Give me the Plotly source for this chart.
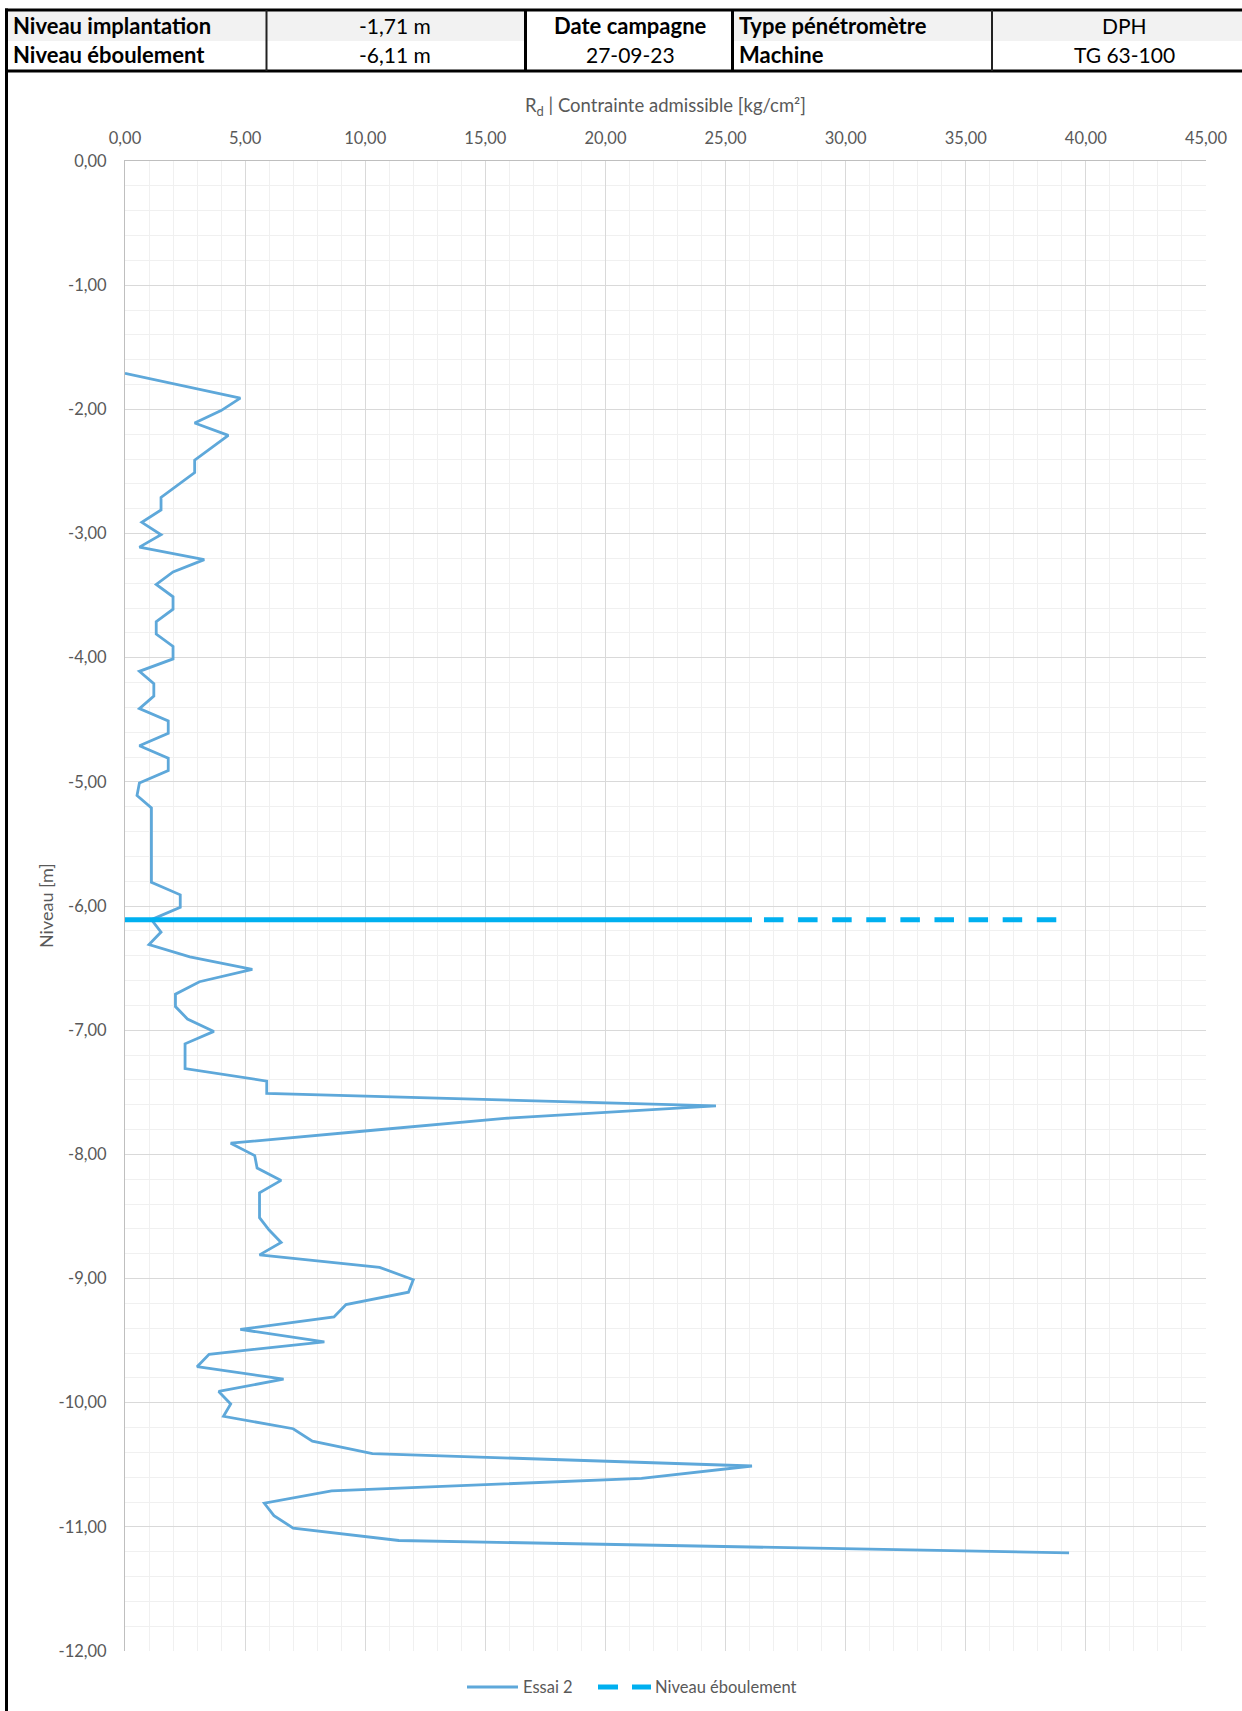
import plotly.graph_objects as go

# --- Sondage data -----------------------------------------------------------
niveau_implantation = -1.71
niveau_eboulement = -6.11
date_campagne = "27-09-23"
type_penetrometre = "DPH"
machine = "TG 63-100"

# Depth of each reading [m]
niveau = [
    -1.71, -1.81, -1.91, -2.01, -2.11, -2.21, -2.31, -2.41, -2.51, -2.61,
    -2.71, -2.81, -2.91, -3.01, -3.11, -3.21, -3.31, -3.41, -3.51, -3.61,
    -3.71, -3.81, -3.91, -4.01, -4.11, -4.21, -4.31, -4.41, -4.51, -4.61,
    -4.71, -4.81, -4.91, -5.01, -5.11, -5.21, -5.31, -5.41, -5.51, -5.61,
    -5.71, -5.81, -5.91, -6.01, -6.11, -6.21, -6.31, -6.41, -6.51, -6.61,
    -6.71, -6.81, -6.91, -7.01, -7.11, -7.21, -7.31, -7.41, -7.51, -7.61,
    -7.71, -7.81, -7.91, -8.01, -8.11, -8.21, -8.31, -8.41, -8.51, -8.61,
    -8.71, -8.81, -8.91, -9.01, -9.11, -9.21, -9.31, -9.41, -9.51, -9.61,
    -9.71, -9.81, -9.91, -10.01, -10.11, -10.21, -10.31, -10.41, -10.51, -10.61,
    -10.71, -10.81, -10.91, -11.01, -11.11, -11.21,
]

# Rd, admissible stress [kg/cm²] for "Essai 2"
rd_essai2 = [
    0.0, 2.4, 4.8, 4.0, 2.9, 4.3, 3.6, 2.9, 2.9, 2.2,
    1.5, 1.5, 0.7, 1.5, 0.6, 3.3, 2.0, 1.3, 2.0, 2.0,
    1.3, 1.3, 2.0, 2.0, 0.6, 1.2, 1.2, 0.6, 1.8, 1.8,
    0.6, 1.8, 1.8, 0.6, 0.5, 1.1, 1.1, 1.1, 1.1, 1.1,
    1.1, 1.1, 2.3, 2.3, 1.1, 1.5, 1.0, 2.7, 5.3, 3.1,
    2.1, 2.1, 2.6, 3.7, 2.5, 2.5, 2.5, 5.9, 5.9, 24.6,
    15.8, 10.1, 4.4, 5.4, 5.5, 6.5, 5.6, 5.6, 5.6, 6.0,
    6.5, 5.6, 10.6, 12.0, 11.8, 9.2, 8.7, 4.8, 8.3, 3.5,
    3.0, 6.6, 3.9, 4.4, 4.1, 7.0, 7.8, 10.3, 26.1, 21.5,
    8.6, 5.8, 6.2, 7.0, 11.4, 39.3,
]

# Axis ticks
x_ticks = [0, 5, 10, 15, 20, 25, 30, 35, 40, 45]
y_ticks = [0, -1, -2, -3, -4, -5, -6, -7, -8, -9, -10, -11, -12]


def fr(v, nd=2):
    """French decimal formatting with a plain hyphen for negatives."""
    return f"{v:.{nd}f}".replace(".", ",")


# --- Page geometry (pixels) --------------------------------------------------
W, H = 1242, 1711
L, R, T, B = 125, 36, 161, 60
PW, PH = W - L - R, H - T - B


def px(x):
    return (x - L) / PW


def py(y):
    return (H - B - y) / PH


GREY_TXT = "#595959"
FONT = "Lato"
C_ESSAI = "#5EA8DA"
C_EBOUL = "#00B0F0"
EBOUL_DASH = "0px,12px,19.5px,2.6px"

fig = go.Figure()

fig.add_trace(go.Scatter(
    x=rd_essai2, y=niveau, mode="lines", name="Essai 2",
    line=dict(color=C_ESSAI, width=2.8),
))

# Collapse level: dense part drawn solid, last stretch dashed
eb_sorted = sorted(rd_essai2)
fig.add_trace(go.Scatter(
    x=[eb_sorted[0], eb_sorted[-2]], y=[niveau_eboulement] * 2, mode="lines",
    name="Niveau éboulement", line=dict(color=C_EBOUL, width=5), hoverinfo="skip",
))
fig.add_trace(go.Scatter(
    x=[eb_sorted[-2], eb_sorted[-1]], y=[niveau_eboulement] * 2, mode="lines",
    name="Niveau éboulement",
    line=dict(color=C_EBOUL, width=5, dash=EBOUL_DASH),
))

fig.update_xaxes(
    side="top", range=[0, 45], tickvals=x_ticks, ticktext=[fr(v) for v in x_ticks],
    showgrid=True, gridcolor="#D9D9D9", gridwidth=1,
    minor=dict(dtick=1, showgrid=True, gridcolor="#F0F0F0", gridwidth=1),
    showline=True, linecolor="#BFBFBF", linewidth=1, mirror=False,
    zeroline=False, ticks="", ticklabelstandoff=9,
    tickfont=dict(family=FONT, size=16.5, color=GREY_TXT),
)
fig.update_yaxes(
    range=[-12, 0], tickvals=y_ticks, ticktext=[fr(v) for v in y_ticks],
    showgrid=True, gridcolor="#D9D9D9", gridwidth=1,
    minor=dict(dtick=0.2, showgrid=True, gridcolor="#F0F0F0", gridwidth=1),
    showline=True, linecolor="#BFBFBF", linewidth=1,
    zeroline=False, ticks="", ticklabelstandoff=14,
    tickfont=dict(family=FONT, size=16.5, color=GREY_TXT),
)

shapes = []
annotations = []

# Axis titles
annotations.append(dict(
    x=0.5, y=py(106), xref="paper", yref="paper", showarrow=False,
    text="R<sub>d</sub> | Contrainte admissible [kg/cm²]",
    font=dict(family=FONT, size=18.5, color=GREY_TXT), xanchor="center", yanchor="middle",
))
annotations.append(dict(
    x=px(46), y=0.5, xref="paper", yref="paper", showarrow=False,
    text="Niveau [m]", textangle=-90,
    font=dict(family=FONT, size=18, color=GREY_TXT), xanchor="center", yanchor="middle",
))

# Header table: shaded first row
for x0, x1 in [(8, 525), (733, W)]:
    shapes.append(dict(type="rect", xref="paper", yref="paper",
                       x0=px(x0), x1=px(x1), y0=py(11), y1=py(41),
                       fillcolor="#F2F2F2", line=dict(width=0), layer="below"))


# Header table borders and page frame
def hline(y, x0, x1, w, c="#000000", dash="solid"):
    shapes.append(dict(type="line", xref="paper", yref="paper",
                       x0=px(x0), x1=px(x1), y0=py(y), y1=py(y),
                       line=dict(color=c, width=w, dash=dash)))


def vline(x, y0, y1, w, c="#000000"):
    shapes.append(dict(type="line", xref="paper", yref="paper",
                       x0=px(x), x1=px(x), y0=py(y0), y1=py(y1),
                       line=dict(color=c, width=w)))


hline(10, 5, W, 3)
hline(71, 5, W, 3)
vline(6.5, 8.5, H, 3)
vline(266.5, 10, 71, 2, "#222222")
vline(525.5, 10, 71, 3)
vline(732.5, 10, 71, 3)
vline(992, 10, 71, 2, "#222222")

row1, row2 = 25, 54
cells = [
    ("<b>Niveau implantation</b>", 11, row1, "left", 22),
    ("<b>Niveau éboulement</b>", 11, row2, "left", 22),
    (f"{fr(niveau_implantation)} m", 395, row1, "center", 21),
    (f"{fr(niveau_eboulement)} m", 395, row2, "center", 21),
    ("<b>Date campagne</b>", 630, row1, "center", 22),
    (date_campagne, 630, row2, "center", 21),
    ("<b>Type pénétromètre</b>", 737, row1, "left", 22),
    ("<b>Machine</b>", 737, row2, "left", 22),
    (type_penetrometre, 1124, row1, "center", 21),
    (machine, 1124, row2, "center", 21),
]
for txt, x, y, anc, sz in cells:
    annotations.append(dict(
        x=px(x), y=py(y), xref="paper", yref="paper", showarrow=False,
        text=txt, xanchor=anc, yanchor="middle",
        font=dict(family=FONT, size=sz, color="#000000"),
    ))

# Legend row below the plot (wide line samples)
LEG_Y = 1687
hline(LEG_Y, 467, 518, 2.8, C_ESSAI)
annotations.append(dict(
    x=px(521), y=py(LEG_Y), xref="paper", yref="paper", showarrow=False,
    text=fig.data[0].name, xanchor="left", yanchor="middle",
    font=dict(family=FONT, size=16.5, color=GREY_TXT),
))
hline(LEG_Y, 598, 618, 5, C_EBOUL)
hline(LEG_Y, 632, 651, 5, C_EBOUL)
annotations.append(dict(
    x=px(653), y=py(LEG_Y), xref="paper", yref="paper", showarrow=False,
    text=fig.data[2].name, xanchor="left", yanchor="middle",
    font=dict(family=FONT, size=16.5, color=GREY_TXT),
))

fig.update_layout(
    width=W, height=H,
    margin=dict(l=L, r=R, t=T, b=B),
    paper_bgcolor="white", plot_bgcolor="white",
    shapes=shapes, annotations=annotations,
    showlegend=False,
    font=dict(family=FONT),
)

fig.write_html("out.html")
